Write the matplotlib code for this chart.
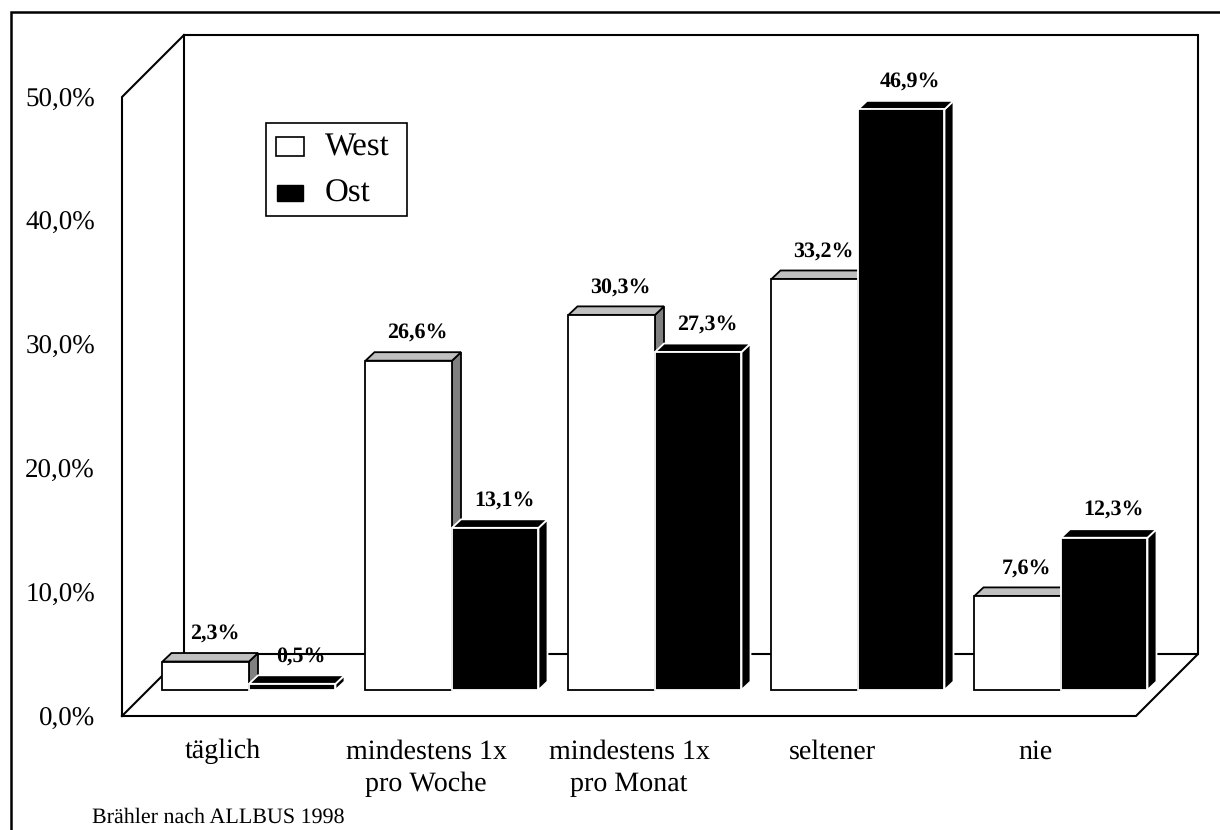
#!/usr/bin/env python
# coding=utf-8

import matplotlib
matplotlib.use('Agg')
import matplotlib.pyplot as plt
from matplotlib.patches import Polygon, Rectangle

plt.rcParams['font.family'] = ['Liberation Serif', 'DejaVu Serif']
plt.rcParams['text.hinting'] = 'no_hinting'
plt.rcParams['text.hinting_factor'] = 1

categories = ['täglich', 'mindestens 1x\npro Woche', 'mindestens 1x\npro Monat', 'seltener', 'nie']
west = [2.3, 26.6, 30.3, 33.2, 7.6]
ost = [0.5, 13.1, 27.3, 46.9, 12.3]
west_labels = ['2,3%', '26,6%', '30,3%', '33,2%', '7,6%']
ost_labels = ['0,5%', '13,1%', '27,3%', '46,9%', '12,3%']
yticks = [0, 10, 20, 30, 40, 50]
ytick_labels = ['0,0%', '10,0%', '20,0%', '30,0%', '40,0%', '50,0%']

W, H = 1220, 830
CX0, CW = 249.0, 203.0   # px of first category, px per category
Y0, YS = 716.0, 12.38    # px of 0 %, px per 1 %

fig = plt.figure(figsize=(W / 100, H / 100), dpi=100)
ax = fig.add_axes([0, 0, 1, 1])
ax.set_xlim((0 - CX0) / CW, (W - CX0) / CW)
ax.set_ylim((Y0 - H) / YS, Y0 / YS)
ax.axis('off')

xu = 1 / CW    # one pixel in x units
yu = 1 / YS    # one pixel in y units

# chart box
xl, xr = -127 * xu, 887 * xu
wall_dx, wall_dy = 62 * xu, 62 * yu
ax.plot([xl, xl, xl + wall_dx], [0, 50, 50 + wall_dy], color='black', lw=1.5, solid_joinstyle='miter')
ax.plot([xl + wall_dx, xl + wall_dx, xr + wall_dx, xr + wall_dx],
        [wall_dy, 50 + wall_dy, 50 + wall_dy, wall_dy], color='black', lw=1.5, solid_joinstyle='miter')
ax.plot([xl, xl + wall_dx, xr + wall_dx, xr, xl], [0, wall_dy, wall_dy, 0, 0], color='black', lw=1.5,
        solid_joinstyle='miter')

# bars
bw = 86.5 * xu
base = 26 * yu
cap_dx, cap_dy = 9 * xu, 8.5 * yu


def bar3d(x, v, face, cap, side, edge):
    top = base + v
    ax.add_patch(Polygon([(x + bw, base), (x + bw + cap_dx, base + cap_dy), (x + bw + cap_dx, top + cap_dy), (x + bw, top)],
                         facecolor=side, edgecolor=edge, lw=1.3, zorder=3))
    ax.add_patch(Polygon([(x, top), (x + cap_dx, top + cap_dy), (x + bw + cap_dx, top + cap_dy), (x + bw, top)],
                         facecolor=cap, edgecolor=edge, lw=1.3, zorder=3))
    ax.add_patch(Rectangle((x, base), bw, v, facecolor=face, edgecolor=edge, lw=1.3, zorder=3))


for i in range(len(categories)):
    bar3d(i - bw, west[i], 'white', '#c0c0c0', '#808080', 'black')
    bar3d(i, ost[i], 'black', 'black', 'black', 'white')
    ax.text(i - bw + 52 * xu, base + west[i] + 17 * yu, west_labels[i], ha='center', va='bottom',
            fontsize=16, fontweight='bold', zorder=4)
    ax.text(i + 52 * xu, base + ost[i] + 17 * yu, ost_labels[i], ha='center', va='bottom',
            fontsize=16, fontweight='bold', zorder=4)
    ax.text(i - 26 * xu, -23 * yu, categories[i], ha='center', va='top', fontsize=20.5, linespacing=1.39)

for v, s in zip(yticks, ytick_labels):
    ax.text(xl - 27 * xu, v - 3 * yu, s, ha='right', va='center', fontsize=19.6)

# legend
ax.add_patch(Rectangle((17 * xu, 500 * yu), 141 * xu, 93 * yu, facecolor='white', edgecolor='black', lw=1.2, zorder=5))
ax.add_patch(Rectangle((27 * xu, 560 * yu), 28 * xu, 19 * yu, facecolor='white', edgecolor='black', lw=1.2, zorder=6))
ax.add_patch(Rectangle((28 * xu, 515 * yu), 26 * xu, 16 * yu, facecolor='black', edgecolor='black', lw=1, zorder=6))
ax.text(76 * xu, 568 * yu, 'West', va='center', fontsize=23.5, zorder=6)
ax.text(76 * xu, 522 * yu, 'Ost', va='center', fontsize=23.5, zorder=6)

ax.text(-157 * xu, -101 * yu, 'Brähler nach ALLBUS 1998', va='center', fontsize=16)

# outer frame
ax.plot([-238 * xu, -238 * xu, 971 * xu], [(Y0 - H) / YS, 704 * yu, 704 * yu], color='black', lw=1.8,
        solid_joinstyle='miter')

fig.savefig('out.png', dpi=100)
